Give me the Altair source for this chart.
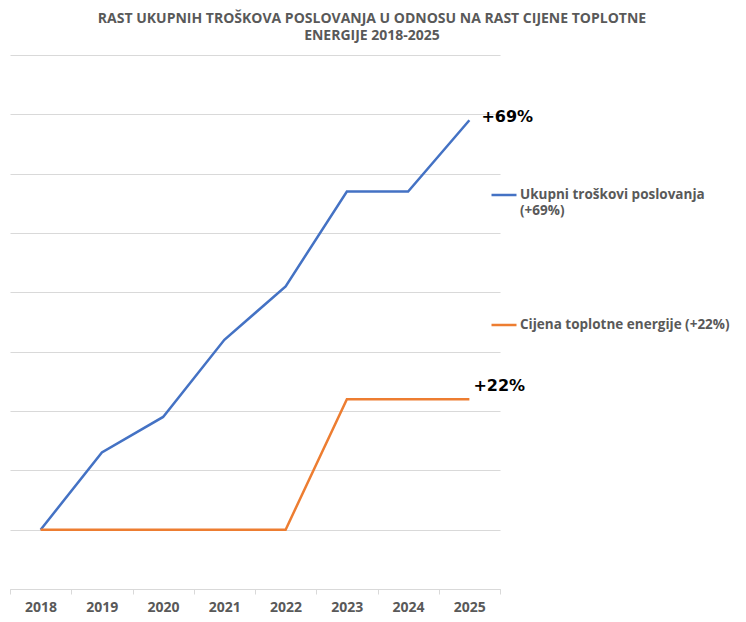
import altair as alt
import pandas as pd

YEARS = ["2018", "2019", "2020", "2021", "2022", "2023", "2024", "2025"]
TOTAL_COSTS = [0, 13, 19, 32, 41, 57, 57, 69]
HEAT_PRICE = [0, 0, 0, 0, 0, 22, 22, 22]
SERIES = ["Ukupni troškovi poslovanja (+69%)", "Cijena toplotne energije (+22%)"]
END_LABELS = ["+69%", "+22%"]

BLUE = "#4472C4"
ORANGE = "#ED7D31"
GREY = "#595959"
GRID = "#D9D9D9"

rows = []
for name, values, end in zip(SERIES, [TOTAL_COSTS, HEAT_PRICE], END_LABELS):
    for year, v in zip(YEARS, values):
        rows.append({"year": year, "value": v, "series": name, "end": end})
data = pd.DataFrame(rows)

x = alt.X(
    "year:N",
    title=None,
    scale=alt.Scale(type="band", paddingInner=0, paddingOuter=0),
    axis=alt.Axis(
        labelAngle=0,
        labelFont="Open Sans",
        labelFontSize=14,
        labelFontWeight="bold",
        labelColor=GREY,
        labelPadding=6,
        domainColor=GRID,
        tickColor=GRID,
        tickSize=5,
        tickBand="extent",
        grid=False,
    ),
)
y = alt.Y(
    "value:Q",
    title=None,
    scale=alt.Scale(domain=[-10, 80], nice=False),
    axis=alt.Axis(
        values=list(range(-10, 81, 10)),
        labels=False,
        ticks=False,
        domain=False,
        gridColor=GRID,
        gridWidth=1,
    ),
)

lines = (
    alt.Chart(data)
    .mark_line(strokeWidth=2.5)
    .encode(
        x=x,
        y=y,
        color=alt.Color(
            "series:N",
            sort=SERIES,
            scale=alt.Scale(domain=SERIES, range=[BLUE, ORANGE]),
            legend=alt.Legend(
                title=None,
                orient="none",
                legendX=480,
                legendY=126,
                symbolType="stroke",
                symbolSize=625,
                symbolStrokeWidth=2.5,
                labelFont="Open Sans",
                labelFontSize=13.5,
                labelFontWeight="bold",
                labelColor=GREY,
                labelLimit=300,
                labelOffset=2,
                rowPadding=94,
                labelExpr="datum.label[0] == 'U' ? split(replace(datum.label, ' (', '|('), '|') : datum.label",
            ),
        ),
    )
)

last = alt.Chart(data).transform_filter(alt.datum.year == YEARS[-1])
text_style = dict(font="DejaVu Sans", fontSize=16, fontWeight="bold", color="black", align="left")
label_top = (
    last.transform_filter(alt.datum.series == SERIES[0])
    .mark_text(dx=12, dy=-3, **text_style)
    .encode(x=x, y=y, text="end:N")
)
label_bottom = (
    last.transform_filter(alt.datum.series == SERIES[1])
    .mark_text(dx=4, dy=-13, **text_style)
    .encode(x=x, y=y, text="end:N")
)

chart = (
    alt.layer(lines, label_top, label_bottom)
    .properties(
        width=490,
        height=534,
        autosize=alt.AutoSizeParams(type="none"),
        padding={"left": 2, "top": 47, "right": 238, "bottom": 30},
        title=alt.TitleParams(
            ["RAST UKUPNIH TROŠKOVA POSLOVANJA U ODNOSU NA RAST CIJENE TOPLOTNE", "ENERGIJE 2018-2025"],
            font="Open Sans",
            fontSize=14,
            fontWeight="bold",
            color=GREY,
            anchor="middle",
            dx=117,
            lineHeight=17,
            offset=12,
        ),
    )
    .configure_view(strokeWidth=0)
)

chart.save("out.html", embed_options={"renderer": "svg", "actions": False})
